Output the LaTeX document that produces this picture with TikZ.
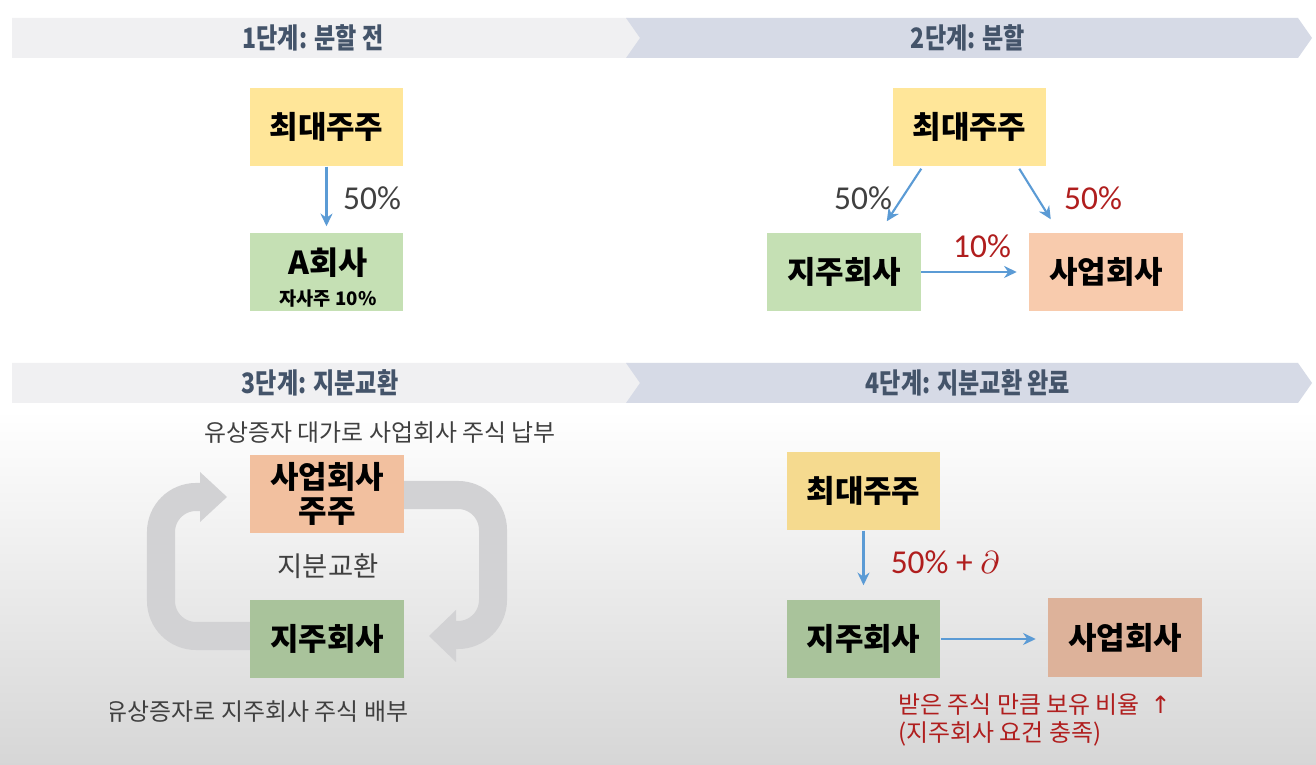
\documentclass[tikz,border=0pt]{standalone}
\usepackage{fontspec}
\setmainfont{Noto Sans CJK KR}
\newfontfamily\calib{Carlito}
\newfontfamily\symfont{DejaVu Sans}
\newfontfamily\titlefont[FakeStretch=0.82]{Noto Sans CJK KR}
\usetikzlibrary{calc, arrows.meta}

\definecolor{titlegray}{HTML}{44546A}
\definecolor{bannerlight}{HTML}{F0F0F2}
\definecolor{bannerdark}{HTML}{D6DAE6}
\definecolor{shgold}{HTML}{FFE699}
\definecolor{shgreen}{HTML}{C5E0B4}
\definecolor{shpeach}{HTML}{F8CBAD}
\definecolor{dimgold}{HTML}{F5DA8F}
\definecolor{dimgreen}{HTML}{A9C39B}
\definecolor{dimpeach}{HTML}{DDB29A}
\definecolor{peachsh}{HTML}{F2C09F}
\definecolor{linkblue}{HTML}{5B9BD5}
\definecolor{labelgray}{HTML}{404040}
\definecolor{darkred}{HTML}{B01E1E}
\definecolor{cyclegray}{HTML}{D2D2D4}

\begin{document}
\begin{tikzpicture}[x=0.01cm, y=-0.01cm,
    box/.style={minimum width=1.53cm, minimum height=0.78cm, inner sep=0pt,
        align=center, font=\bfseries\fontsize{8.8}{9.6}\selectfont},
    banner/.style={font=\titlefont\bfseries\fontsize{8}{9}\selectfont, text=titlegray},
    link/.style={draw=linkblue, line width=0.6pt, -{Stealth[length=3.6pt, width=3.4pt]}},
    pct/.style={font=\calib\fontsize{9.5}{11}\selectfont},
    note/.style={font=\fontsize{6.8}{8}\selectfont, text=labelgray},
    cyc/.style={draw=cyclegray, line width=0.28cm, rounded corners=0.35cm}]

    \useasboundingbox (0,0) rectangle (1316,765);
    \fill[white] (0,0) rectangle (1316,765);
    \shade[top color=white, bottom color=black!16] (0,410) rectangle (1316,765);

    % banners
    \fill[bannerlight] (12,18) -- (628,18) -- (642,38) -- (628,58) -- (12,58) -- cycle;
    \fill[bannerdark] (626,18) -- (1298,18) -- (1312,38) -- (1298,58) -- (626,58) -- (640,38) -- cycle;
    \fill[bannerlight] (12,363) -- (628,363) -- (642,383) -- (628,403) -- (12,403) -- cycle;
    \fill[bannerdark] (626,363) -- (1298,363) -- (1312,383) -- (1298,403) -- (626,403) -- (640,383) -- cycle;
    \node[banner] (t1) at (313,38) {1단계: 분할 전};
    \node[banner] (t2) at (968,38) {2단계: 분할};
    \node[banner] (t3) at (320,383) {3단계: 지분교환};
    \node[banner] (t4) at (968,383) {4단계: 지분교환 완료};

    % step 1
    \node[box, fill=shgold] (top1) at (326.5,127) {최대주주};
    \node[box, fill=shgreen] (firm1) at (326.5,272) {};
    \node[font=\bfseries\fontsize{9}{11}\selectfont] (firmname) at (328,263) {A회사};
    \node[font=\bfseries\fontsize{5.3}{6}\selectfont] (treasury) at (328,299) {자사주 10\%};
    \draw[link, shorten >=0.06cm] (top1.south) -- (firm1.north);
    \node[pct, text=labelgray] (p1) at (372,198) {50\%};

    % step 2
    \node[box, fill=shgold] (top2) at (969.5,127) {최대주주};
    \node[box, fill=shgreen] (hold2) at (844,272) {지주회사};
    \node[box, fill=shpeach] (biz2) at (1106,272) {사업회사};
    \draw[link] ($(top2.south west)+(29,2)$) -- ($(hold2.north west)+(120,-11)$);
    \draw[link] ($(top2.south west)+(127,2)$) -- ($(biz2.north west)+(22,-13)$);
    \draw[link, shorten >=0.12cm] (hold2.east) -- (biz2.west);
    \node[pct, text=labelgray] (p2) at (863,198) {50\%};
    \node[pct, text=darkred] (p3) at (1093,198) {50\%};
    \node[pct, text=darkred] (p4) at (982,246) {10\%};

    % step 3
    \draw[cyc] (260,636) -- (161,636) -- (161,497) -- (202,497);
    \fill[cyclegray] (200,472) -- (227,497) -- (200,522) -- cycle;
    \draw[cyc] (395,495) -- (493,495) -- (493,635) -- (456,635);
    \fill[cyclegray] (456,610) -- (429,636) -- (456,662) -- cycle;
    \node[note] (n1) at (380,433) {유상증자 대가로 사업회사 주식 납부};
    \node[box, fill=peachsh] (bizsh3) at (327,494) {사업회사\\주주};
    \node[note, font=\fontsize{7.8}{9}\selectfont] (n2) at (328,566) {지분교환};
    \node[box, fill=dimgreen] (hold3) at (327,639) {지주회사};
    \begin{scope}
        \clip (110,690) rectangle (700,740);
        \node[note] (n3) at (257,712) {유상증자로 지주회사 주식 배부};
    \end{scope}

    % step 4
    \node[box, fill=dimgold] (top4) at (863.5,491) {최대주주};
    \node[box, fill=dimgreen] (hold4) at (863.5,639) {지주회사};
    \node[box, fill=dimpeach] (biz4) at (1125,637.5) {사업회사};
    \draw[link, shorten >=0.14cm] (top4.south) -- (hold4.north);
    \draw[link, shorten >=0.12cm] (hold4.east) -- (hold4.east -| biz4.west);
    \node[pct, text=darkred] (p5) at (945,562) {50\% + $\partial$};
    \node[note, text=darkred, anchor=north west, align=left, font=\fontsize{6.8}{8}\selectfont]
        (n4) at (886,681) {받은 주식 만큼 보유 비율 \ {\symfont ↑}\\(지주회사 요건 충족)};
\end{tikzpicture}
\end{document}
